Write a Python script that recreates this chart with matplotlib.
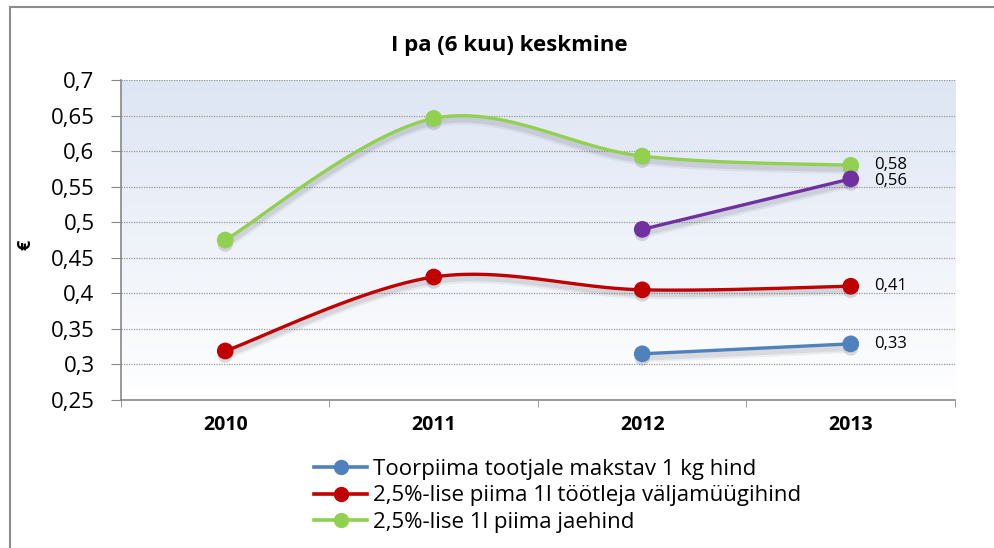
import numpy as np
import matplotlib.pyplot as plt
import matplotlib.patheffects as pe
from matplotlib.lines import Line2D

years = ["2010", "2011", "2012", "2013"]
toorpiim = [None, None, 0.315, 0.329]
tootleja = [0.319, 0.423, 0.405, 0.41]
jaehind = [0.475, 0.646, 0.593, 0.58]
lilla = [None, None, 0.49, 0.561]

labels = ["Toorpiima tootjale makstav 1 kg hind",
          "2,5%-lise piima 1l töötleja väljamüügihind",
          "2,5%-lise 1l piima jaehind"]
end_labels = {"toor": "0,33", "tootleja": "0,41", "jae": "0,58", "lilla": "0,56"}

plt.rcParams['font.family'] = ['Open Sans', 'DejaVu Sans']


def smooth(xs, ys, n=40):
    # Excel-like smoothed line (Catmull-Rom Bezier)
    pts = np.column_stack([xs, ys])
    out = [pts[0]]
    for i in range(len(pts) - 1):
        p0 = pts[i - 1] if i > 0 else pts[i]
        p1 = pts[i]
        p2 = pts[i + 1]
        p3 = pts[i + 2] if i + 2 < len(pts) else pts[i + 1]
        c1 = p1 + (p2 - p0) / 6
        c2 = p2 - (p3 - p1) / 6
        t = np.linspace(0, 1, n)[1:, None]
        b = (1 - t) ** 3 * p1 + 3 * (1 - t) ** 2 * t * c1 + 3 * (1 - t) * t ** 2 * c2 + t ** 3 * p2
        out.extend(b)
    out = np.array(out)
    return out[:, 0], out[:, 1]


fig = plt.figure(figsize=(9.95, 5.48), dpi=100)
ax = fig.add_axes([0.1216, 0.27, 0.8382, 0.584])

# gradient background
grad = np.linspace(0, 1, 256).reshape(-1, 1)
top = np.array([0.87, 0.90, 0.955])
bot = np.array([1.0, 1.0, 1.0])
img = top[None, None, :] * (1 - grad[:, :, None]) + bot[None, None, :] * grad[:, :, None]
ax.imshow(img, extent=[-0.5, 3.5, 0.25, 0.7], aspect='auto', zorder=0)

ax.set_xlim(-0.5, 3.5)
ax.set_ylim(0.25, 0.7)

# soft shadow under lines
shadow = [pe.SimpleLineShadow(offset=(0, -3), shadow_color='#505060', alpha=0.08, linewidth=7),
          pe.SimpleLineShadow(offset=(0, -3), shadow_color='#505060', alpha=0.12, linewidth=4),
          pe.Normal()]
mshadow = [pe.SimplePatchShadow(offset=(0, -3), shadow_rgbFace='#505060', alpha=0.2), pe.Normal()]

series = [
    (toorpiim, '#4f81bd', "toor"),
    (tootleja, '#c00000', "tootleja"),
    (jaehind, '#92d050', "jae"),
    (lilla, '#7030a0', "lilla"),
]
for vals, col, key in series:
    xs = [i for i, v in enumerate(vals) if v is not None]
    ys = [v for v in vals if v is not None]
    sx, sy = smooth(np.array(xs, float), np.array(ys, float))
    ax.plot(sx, sy, color=col, lw=2.4, zorder=3, path_effects=shadow, solid_capstyle='round')
    ax.plot(xs, ys, 'o', color=col, ms=11, zorder=4, path_effects=mshadow)
    off = 0
    if key == "jae":
        off = 0.001
    elif key == "lilla":
        off = -0.003
    ax.text(xs[-1] + 0.11, ys[-1] + off, end_labels[key], fontsize=12, va='center', ha='left', zorder=5)

yt = np.arange(0.25, 0.7001, 0.05)
ax.set_yticks(yt)
ax.set_yticklabels([("%g" % v).replace('.', ',') for v in yt], fontsize=16)
ax.set_xticks(range(4))
ax.set_xticklabels(years, fontsize=14, fontweight='bold')
ax.set_xticks([-0.5, 0.5, 1.5, 2.5, 3.5], minor=True)
ax.tick_params(axis='x', which='major', length=0, pad=11)
ax.tick_params(axis='x', which='minor', length=5, color='#888888', direction='out')
ax.tick_params(axis='y', length=7, color='#888888', direction='out', pad=12)
for y in yt[1:]:
    ax.axhline(y, color='#999999', lw=0.9, ls=(0, (1, 1)), zorder=1)
for s in ['top', 'right']:
    ax.spines[s].set_visible(False)
for s in ['left', 'bottom']:
    ax.spines[s].set_color('#888888')
    ax.spines[s].set_linewidth(1.2)

fig.text(25 / 995, 1 - 245 / 548, "€", fontsize=13, fontweight='bold', rotation=90,
         ha='center', va='center')
fig.text(509 / 995, 1 - 45 / 548, "I pa (6 kuu) keskmine", fontsize=16, fontweight='bold',
         ha='center', va='center')

handles = [Line2D([], [], color=c, lw=2.6, marker='o', ms=10) for _, c, _ in series[:3]]
fig.legend(handles, labels, loc='upper left', bbox_to_anchor=(0.3156, 0.163), frameon=False,
           fontsize=16, handlelength=2.4, handletextpad=0.25, labelspacing=0.26, borderaxespad=0,
           borderpad=0)

# outer chart frame (cropped)
fig.add_artist(Line2D([0.0101, 1.0], [0.987, 0.987], color='#8c8c8c', lw=1.5, transform=fig.transFigure))
fig.add_artist(Line2D([0.0101, 0.0101], [0.0, 0.987], color='#8c8c8c', lw=1.5, transform=fig.transFigure))

fig.savefig("out.png", dpi=100)
